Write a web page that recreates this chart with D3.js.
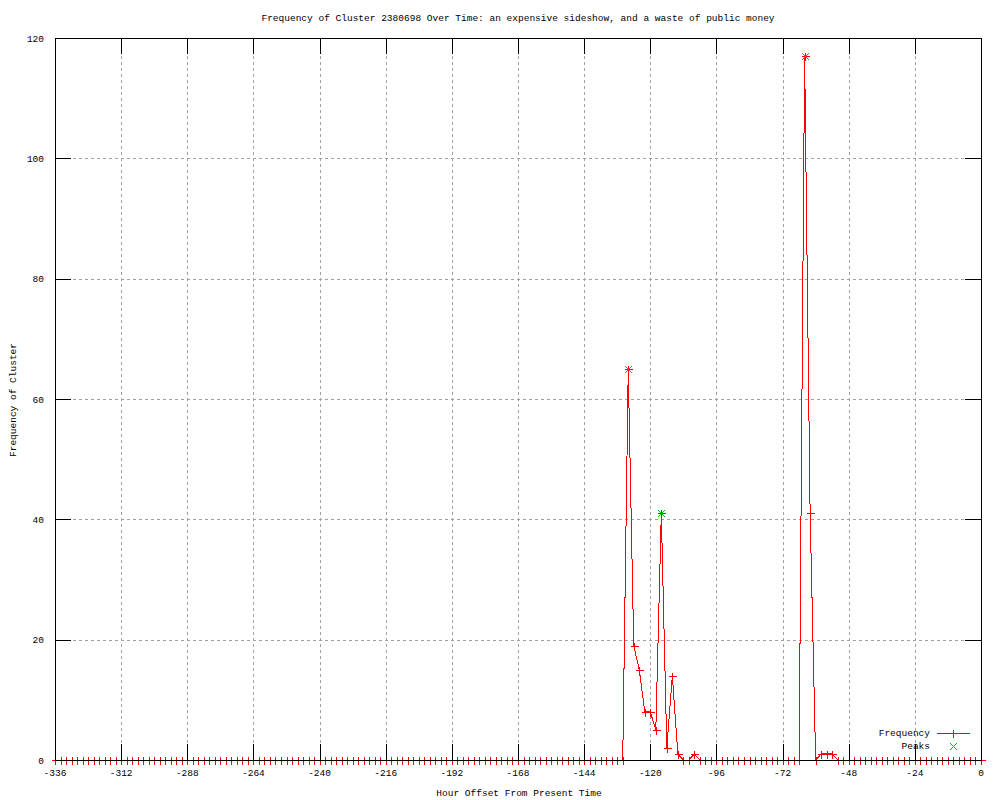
<!DOCTYPE html>
<html>
<head>
<meta charset="UTF-8">
<title>Frequency of Cluster 2380698</title>
<script src="https://d3js.org/d3.v7.min.js"></script>
<style>
  body { margin: 0; background: #fff; }
  svg text { font-family: "Liberation Mono", "DejaVu Sans Mono", monospace; font-size: 9.5px; fill: #000; }
  .red { stroke: #ff0000; fill: none; }
  .green { stroke: #00c000; fill: none; }
</style>
</head>
<body>
<div id="chart"></div>
<script>
/*global d3*/

// hour offsets, one sample every 2 hours
var hours = [
  -336, -334, -332, -330, -328, -326, -324, -322, -320, -318, -316, -314,
  -312, -310, -308, -306, -304, -302, -300, -298, -296, -294, -292, -290,
  -288, -286, -284, -282, -280, -278, -276, -274, -272, -270, -268, -266,
  -264, -262, -260, -258, -256, -254, -252, -250, -248, -246, -244, -242,
  -240, -238, -236, -234, -232, -230, -228, -226, -224, -222, -220, -218,
  -216, -214, -212, -210, -208, -206, -204, -202, -200, -198, -196, -194,
  -192, -190, -188, -186, -184, -182, -180, -178, -176, -174, -172, -170,
  -168, -166, -164, -162, -160, -158, -156, -154, -152, -150, -148, -146,
  -144, -142, -140, -138, -136, -134, -132, -130, -128, -126, -124, -122,
  -120, -118, -116, -114, -112, -110, -108, -106, -104, -102, -100, -98,
  -96, -94, -92, -90, -88, -86, -84, -82, -80, -78, -76, -74,
  -72, -70, -68, -66, -64, -62, -60, -58, -56, -54, -52, -50,
  -48, -46, -44, -42, -40, -38, -36, -34, -32, -30, -28, -26,
  -24, -22, -20, -18, -16, -14, -12, -10, -8, -6, -4, -2,
  0
];

var frequency = [
  0, 0, 0, 0, 0, 0, 0, 0, 0, 0, 0, 0,
  0, 0, 0, 0, 0, 0, 0, 0, 0, 0, 0, 0,
  0, 0, 0, 0, 0, 0, 0, 0, 0, 0, 0, 0,
  0, 0, 0, 0, 0, 0, 0, 0, 0, 0, 0, 0,
  0, 0, 0, 0, 0, 0, 0, 0, 0, 0, 0, 0,
  0, 0, 0, 0, 0, 0, 0, 0, 0, 0, 0, 0,
  0, 0, 0, 0, 0, 0, 0, 0, 0, 0, 0, 0,
  0, 0, 0, 0, 0, 0, 0, 0, 0, 0, 0, 0,
  0, 0, 0, 0, 0, 0, 0, 0, 65, 19, 15, 8,
  8, 5, 41, 2, 14, 1, 0, 0, 1, 0, 0, 0,
  0, 0, 0, 0, 0, 0, 0, 0, 0, 0, 0, 0,
  0, 0, 0, 0, 117, 41, 0, 1, 1, 1, 0, 0,
  0, 0, 0, 0, 0, 0, 0, 0, 0, 0, 0, 0,
  0, 0, 0, 0, 0, 0, 0, 0, 0, 0, 0, 0,
  0
];

var peakHours = [-128, -116, -64];
var peakValues = [65, 41, 117];

var xTicks = [-336, -312, -288, -264, -240, -216, -192, -168, -144, -120, -96, -72, -48, -24, 0];
var yTicks = [0, 20, 40, 60, 80, 100, 120];

var titleText = "Frequency of Cluster 2380698 Over Time: an expensive sideshow, and a waste of public money";

var svgWidth = 1000, svgHeight = 800;
var plotLeft = 55, plotRight = 981, plotTop = 38, plotBottom = 760;
var tickLen = 16;

var svg = d3.select("#chart").append("svg")
  .attr("width", svgWidth)
  .attr("height", svgHeight);

var x = d3.scaleLinear().domain([-336, 0]).range([plotLeft, plotRight]);
var y = d3.scaleLinear().domain([0, 120]).range([plotBottom, plotTop]);

// grid
var grid = svg.append("g").attr("shape-rendering", "crispEdges");
grid.selectAll(".vgrid")
  .data(xTicks.filter(function (d) { return d > -336 && d < 0; }))
  .enter().append("line")
  .attr("x1", function (d) { return Math.round(x(d)) + 0.5; })
  .attr("x2", function (d) { return Math.round(x(d)) + 0.5; })
  .attr("y1", plotTop).attr("y2", plotBottom)
  .attr("stroke", "#a0a0a0").attr("stroke-dasharray", "3,3");
grid.selectAll(".hgrid")
  .data(yTicks.filter(function (d) { return d > 0 && d < 120; }))
  .enter().append("line")
  .attr("y1", function (d) { return Math.round(y(d)) + 0.5; })
  .attr("y2", function (d) { return Math.round(y(d)) + 0.5; })
  .attr("x1", plotLeft).attr("x2", plotRight)
  .attr("stroke", "#a0a0a0").attr("stroke-dasharray", "3,3");

// data line with + points
var pts = hours.map(function (h, i) { return [h, frequency[i]]; });
var line = d3.line()
  .x(function (d) { return x(d[0]); })
  .y(function (d) { return y(d[1]); });

svg.append("path")
  .datum(pts)
  .attr("d", line)
  .attr("class", "red")
  .attr("shape-rendering", "crispEdges");

function plus(cx, cy, s) {
  return "M" + (cx - s) + "," + cy + "H" + (cx + s) + "M" + cx + "," + (cy - s) + "V" + (cy + s);
}
function cross(cx, cy, s) {
  return "M" + (cx - s) + "," + (cy - s) + "L" + (cx + s) + "," + (cy + s) +
         "M" + (cx - s) + "," + (cy + s) + "L" + (cx + s) + "," + (cy - s);
}

svg.append("g").selectAll("path")
  .data(pts)
  .enter().append("path")
  .attr("d", function (d) { return plus(Math.round(x(d[0])) + 0.5, Math.round(y(d[1])) + 0.5, 4); })
  .attr("class", "red")
  .attr("shape-rendering", "crispEdges");

// peaks
svg.append("g").selectAll("path")
  .data(peakHours)
  .enter().append("path")
  .attr("d", function (d, i) { return cross(Math.round(x(d)) + 0.5, Math.round(y(peakValues[i])) + 0.5, 3.5); })
  .attr("class", "green");

// border and ticks
var frame = svg.append("g").attr("shape-rendering", "crispEdges").attr("stroke", "#000");
frame.append("rect")
  .attr("x", plotLeft + 0.5).attr("y", plotTop + 0.5)
  .attr("width", plotRight - plotLeft).attr("height", plotBottom - plotTop)
  .attr("fill", "none");

xTicks.forEach(function (d) {
  var px = Math.round(x(d)) + 0.5;
  frame.append("line").attr("x1", px).attr("x2", px).attr("y1", plotBottom).attr("y2", plotBottom - tickLen);
  frame.append("line").attr("x1", px).attr("x2", px).attr("y1", plotTop).attr("y2", plotTop + tickLen);
});
yTicks.forEach(function (d) {
  var py = Math.round(y(d)) + 0.5;
  frame.append("line").attr("y1", py).attr("y2", py).attr("x1", plotLeft).attr("x2", plotLeft + tickLen);
  frame.append("line").attr("y1", py).attr("y2", py).attr("x1", plotRight).attr("x2", plotRight - tickLen);
});

// tick labels
svg.append("g").selectAll("text")
  .data(xTicks)
  .enter().append("text")
  .attr("x", function (d) { return x(d); })
  .attr("y", 776)
  .attr("text-anchor", "middle")
  .text(function (d) { return d; });

svg.append("g").selectAll("text")
  .data(yTicks)
  .enter().append("text")
  .attr("x", 44)
  .attr("y", function (d) { return y(d) + 3.5; })
  .attr("text-anchor", "end")
  .text(function (d) { return d; });

// titles
svg.append("text")
  .attr("x", 518).attr("y", 21)
  .attr("text-anchor", "middle")
  .text(titleText);

svg.append("text")
  .attr("x", 519).attr("y", 796)
  .attr("text-anchor", "middle")
  .text("Hour Offset From Present Time");

svg.append("text")
  .attr("transform", "translate(16,400) rotate(-90)")
  .attr("text-anchor", "middle")
  .text("Frequency of Cluster");

// legend
var legend = svg.append("g");
legend.append("text").attr("x", 930).attr("y", 736).attr("text-anchor", "end").text("Frequency");
legend.append("path").attr("d", "M937,733.5H970")
  .attr("class", "red").attr("shape-rendering", "crispEdges");
legend.append("path").attr("d", plus(953.5, 733.5, 4))
  .attr("class", "red").attr("shape-rendering", "crispEdges");
legend.append("text").attr("x", 930).attr("y", 749).attr("text-anchor", "end").text("Peaks");
legend.append("path").attr("d", cross(953.5, 746.5, 3.5)).attr("class", "green");
</script>
</body>
</html>
